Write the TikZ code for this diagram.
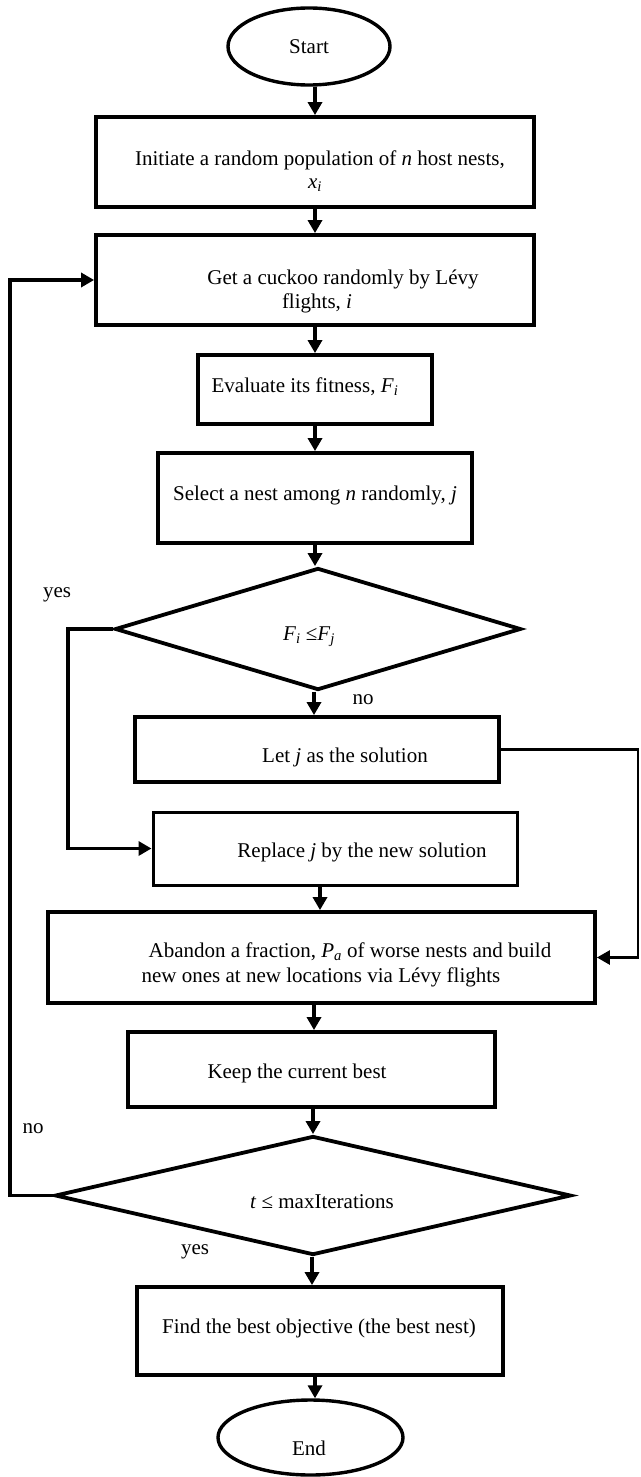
\documentclass[tikz,border=0pt]{standalone}
\usepackage{fontspec}
\setmainfont{Liberation Serif}
\usetikzlibrary{shapes.geometric,arrows.meta}
\begin{document}
\begin{tikzpicture}[x=1pt,y=-1pt,
  box/.style={draw,rectangle,line width=3.8pt,inner sep=0pt},
  term/.style={draw,ellipse,line width=3.4pt,inner sep=0pt,font=\fontsize{21}{25}\selectfont},
  dec/.style={draw,diamond,line width=3.8pt,inner sep=0pt},
  txt/.style={inner sep=0pt,font=\fontsize{21}{25}\selectfont},
  arr/.style={-{Triangle[length=13pt,width=14pt]},line width=3.8pt},
  thinarr/.style={-{Triangle[length=13pt,width=14pt]},line width=2.6pt}]
\useasboundingbox (0,0) rectangle (640,1477);
% x positions of vertical arrows
\coordinate (a312) at (312,0);
\coordinate (a313) at (313,0);
\coordinate (a314) at (314,0);
\coordinate (a315) at (315,0);
\coordinate (a320) at (320,0);
% shapes
\node[term,minimum width=162pt,minimum height=77pt] (start) at (309,46.5) {Start};
\node[box,minimum width=438pt,minimum height=90pt] (b1) at (315,162) {};
\node[box,minimum width=438pt,minimum height=90pt] (b2) at (315,280) {};
\node[box,minimum width=234pt,minimum height=69pt] (b3) at (315,389.5) {};
\node[box,minimum width=314pt,minimum height=90pt] (b4) at (315,498) {};
\node[dec,minimum width=406pt,minimum height=122pt] (d1) at (318,629) {};
\node[box,minimum width=364pt,minimum height=65pt] (b5) at (317,749.5) {};
\node[box,line width=3pt,minimum width=364pt,minimum height=73pt] (b6) at (335,848.5) {};
\node[box,minimum width=547pt,minimum height=91pt] (b7) at (321.5,957.5) {};
\node[box,minimum width=367pt,minimum height=75pt] (b8) at (311.5,1069.5) {};
\node[dec,minimum width=516pt,minimum height=119pt] (d2) at (313,1195.5) {};
\node[box,minimum width=366pt,minimum height=88pt] (b9) at (320,1331) {};
\node[term,minimum width=185pt,minimum height=75pt] (end) at (310.5,1437.5) {};
% texts
\node[txt] (t1a) at (320,160) {Initiate a random population of \textit{n} host nests,};
\node[txt] (t1b) at (315,185) {\textit{x}\textsubscript{\textit{i}}};
\node[txt] (t2a) at (343,279) {Get a cuckoo randomly by Lévy};
\node[txt] (t2b) at (317,303) {flights, \textit{i}};
\node[txt] (t3) at (305,387) {Evaluate its fitness, \textit{F}\textsubscript{\textit{i}}};
\node[txt] (t4) at (315,495) {Select a nest among \textit{n} randomly, \textit{j}};
\node[txt] (td1) at (309,637) {\textit{F}\textsubscript{\textit{i}} ≤\textit{F}\textsubscript{\textit{j}}};
\node[txt] (yes1) at (57,595) {yes};
\node[txt] (no1) at (363,700) {no};
\node[txt] (t5) at (345,757) {Let \textit{j} as the solution};
\node[txt] (t6) at (362,852) {Replace \textit{j} by the new solution};
\node[txt] (t7a) at (350,952) {Abandon a fraction, \textit{P}\textsubscript{\textit{a}} of worse nests and build};
\node[txt] (t7b) at (321,977) {new ones at new locations via Lévy flights};
\node[txt] (t8) at (297,1073) {Keep the current best};
\node[txt] (td2) at (322,1202) {\textit{t} ≤ maxIterations};
\node[txt] (no2) at (33,1129) {no};
\node[txt] (yes2) at (195,1252) {yes};
\node[txt] (t9) at (319,1328) {Find the best objective (the best nest)};
\node[txt] (tend) at (309,1448) {End};
% main flow arrows
\draw[arr] (start.south -| a315) -- (b1.north -| a315);
\draw[arr] (b1.south -| a315) -- (b2.north -| a315);
\draw[arr] (b2.south -| a315) -- (b3.north -| a315);
\draw[arr] (b3.south -| a315) -- (b4.north -| a315);
\draw[arr] (b4.south -| a315) -- (d1.north -| a315);
\draw[arr] (d1.south -| a314) -- (b5.north -| a314);
\draw[arr] (b6.south -| a320) -- (b7.north -| a320);
\draw[arr] (b7.south -| a314) -- (b8.north -| a314);
\draw[arr] (b8.south -| a313) -- (d2.north -| a313);
\draw[arr] (d2.south -| a312) -- (b9.north -| a312);
\draw[arr] (b9.south -| a315) -- (end.north -| a315);
% side connectors
\coordinate (yx) at (68,629);
\draw[arr] (d1.west) -- (yx) |- (b6.west);
\coordinate (rx) at (638,749.5);
\draw[thinarr] (b5.east) -- (rx) |- (b7.east);
\coordinate (lx) at (10,1195.5);
\draw[arr] (d2.west) -- (lx) |- (b2.west);
\end{tikzpicture}
\end{document}
